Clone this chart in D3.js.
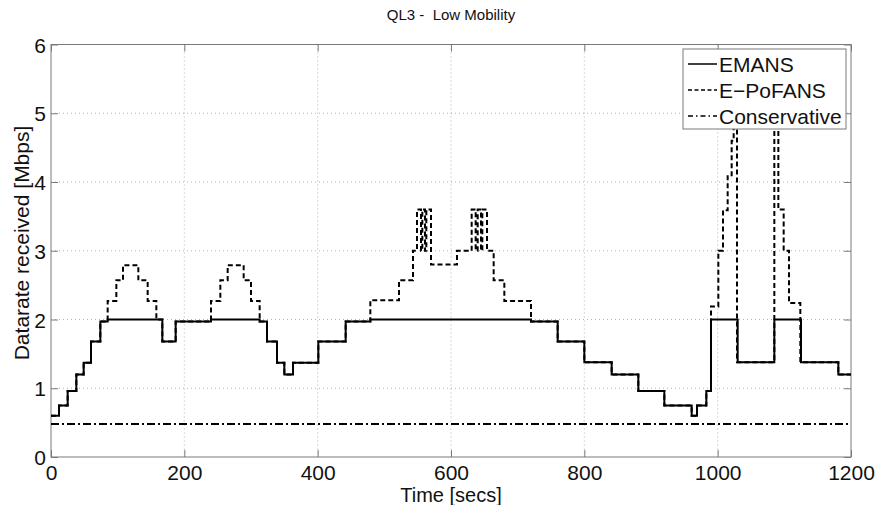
<!DOCTYPE html>
<html>
<head>
<meta charset="utf-8">
<script src="https://cdn.jsdelivr.net/npm/d3@7"></script>
<style>
  body { margin: 0; background: #fff; }
  svg { display: block; font-family: "Liberation Sans", Arial, sans-serif; }
</style>
</head>
<body>
<svg id="chart"></svg>
<script>
// step change times (secs) and the rate held from that time [Mbps]
var emansTime = [0, 12, 25, 38, 49, 60, 74, 85, 167, 187, 240, 313, 324, 339, 350, 363, 401, 442, 479, 720, 760, 800, 841, 881, 920, 961, 969, 983, 990, 1030, 1085, 1125, 1181, 1200];
var emansRate = [0.6, 0.75, 0.96, 1.2, 1.37, 1.68, 1.97, 2.0, 1.68, 1.97, 2.0, 1.97, 1.68, 1.37, 1.2, 1.37, 1.68, 1.97, 2.0, 1.97, 1.68, 1.38, 1.2, 0.96, 0.75, 0.6, 0.75, 0.96, 2.0, 1.38, 2.0, 1.38, 1.2, 1.2];

var pofansTime = [0, 12, 25, 38, 49, 60, 74, 85, 98, 108, 131, 145, 158, 167, 187, 240, 254, 265, 289, 300, 313, 324, 339, 350, 363, 401, 442, 479, 522, 543, 549, 555, 557, 561, 563, 570, 609, 631, 637, 640, 645, 647, 654, 664, 680, 720, 760, 800, 841, 881, 920, 961, 969, 983, 990, 1001, 1008, 1015, 1021, 1024, 1029, 1085, 1091, 1099, 1107, 1124, 1181, 1200];
var pofansRate = [0.6, 0.75, 0.96, 1.2, 1.37, 1.68, 1.97, 2.27, 2.57, 2.79, 2.57, 2.27, 2.0, 1.68, 1.97, 2.27, 2.57, 2.79, 2.57, 2.27, 1.97, 1.68, 1.37, 1.2, 1.37, 1.68, 1.97, 2.28, 2.57, 3.0, 3.6, 3.0, 3.6, 3.0, 3.6, 2.8, 3.0, 3.6, 3.0, 3.6, 3.0, 3.6, 3.0, 2.57, 2.27, 1.97, 1.68, 1.38, 1.2, 0.96, 0.75, 0.6, 0.75, 0.96, 2.19, 3.0, 3.59, 4.1, 4.6, 5.2, 1.38, 5.2, 3.6, 3.0, 2.24, 1.38, 1.2, 1.2];

var consTime = [0, 1200];
var consRate = [0.48, 0.48];

var xTicks = [0, 200, 400, 600, 800, 1000, 1200];
var yTicks = [0, 1, 2, 3, 4, 5, 6];
var seriesNames = ["EMANS", "E\u2212PoFANS", "Conservative"];

var W = 877, H = 505;
var margin = { top: 44.5, right: 26, bottom: 48, left: 51 },
  width = W - margin.left - margin.right,
  height = H - margin.top - margin.bottom;

var svg = d3.select("#chart")
  .attr("width", W)
  .attr("height", H);

var g = svg.append("g")
  .attr("transform", "translate(" + margin.left + "," + margin.top + ")");

var x = d3.scaleLinear().domain([0, 1200]).range([0, width]);
var y = d3.scaleLinear().domain([0, 6]).range([height, 0]);

// dotted grid
g.append("g")
  .selectAll("line")
  .data(xTicks.slice(1, -1))
  .enter().append("line")
  .attr("x1", function(d) { return x(d) }).attr("x2", function(d) { return x(d) })
  .attr("y1", 0).attr("y2", height)
  .attr("stroke", "#a0a0a0").attr("stroke-width", 0.8).attr("stroke-dasharray", "1,3");
g.append("g")
  .selectAll("line")
  .data(yTicks.slice(1, -1))
  .enter().append("line")
  .attr("y1", function(d) { return y(d) }).attr("y2", function(d) { return y(d) })
  .attr("x1", 0).attr("x2", width)
  .attr("stroke", "#a0a0a0").attr("stroke-width", 0.8).attr("stroke-dasharray", "1,3");

// axes, ticks inside and mirrored
var axisColor = "#7a7a7a";
function styleAxis(sel) {
  sel.select(".domain").remove();
  sel.selectAll(".tick line").attr("stroke", axisColor).attr("stroke-width", 1);
  sel.selectAll(".tick text").attr("fill", "#111").attr("dy", null).style("font-size", "21px");
}
var xAxis = g.append("g")
  .attr("transform", "translate(0," + height + ")")
  .call(d3.axisBottom(x).tickValues(xTicks).tickSize(-7).tickFormat(d3.format("d")))
  .call(styleAxis);
xAxis.selectAll(".tick text").attr("y", 23);
var yAxis = g.append("g")
  .call(d3.axisLeft(y).tickValues(yTicks).tickSize(-7).tickPadding(5).tickFormat(d3.format("d")))
  .call(styleAxis);
yAxis.selectAll(".tick text").attr("y", 7.5);
g.append("g")
  .call(d3.axisTop(x).tickValues(xTicks).tickSize(-7).tickFormat(""))
  .call(styleAxis);
g.append("g")
  .attr("transform", "translate(" + width + ",0)")
  .call(d3.axisRight(y).tickValues(yTicks).tickSize(-7).tickFormat(""))
  .call(styleAxis);
g.append("rect")
  .attr("width", width).attr("height", height)
  .attr("fill", "none").attr("stroke", axisColor).attr("stroke-width", 1);

var line = d3.line()
  .curve(d3.curveStepAfter)
  .x(function(d) { return x(d[0]) })
  .y(function(d) { return y(d[1]) });

var dataReady = [
  { name: seriesNames[0], values: d3.zip(emansTime, emansRate), dash: null, legendDash: null },
  { name: seriesNames[1], values: d3.zip(pofansTime, pofansRate), dash: "5,3", legendDash: "4,2.5" },
  { name: seriesNames[2], values: d3.zip(consTime, consRate), dash: "8,3,2,3", legendDash: "5,3,1.5,3" }
];

g.append("g")
  .selectAll("path")
  .data(dataReady.slice().reverse())
  .enter().append("path")
  .attr("d", function(d) { return line(d.values) })
  .attr("fill", "none")
  .attr("stroke", "#000")
  .attr("stroke-width", 2)
  .attr("stroke-dasharray", function(d) { return d.dash });

// legend
var lg = svg.append("g").attr("transform", "translate(683,49)");
lg.append("rect")
  .attr("width", 163).attr("height", 80)
  .attr("fill", "#fff").attr("stroke", axisColor).attr("stroke-width", 1);
var item = lg.selectAll(".item")
  .data(dataReady)
  .enter().append("g")
  .attr("transform", function(d, i) { return "translate(0," + (15 + i * 26) + ")" });
item.append("line")
  .attr("x1", 5).attr("x2", 34)
  .attr("stroke", "#000").attr("stroke-width", 1.5)
  .attr("stroke-dasharray", function(d) { return d.legendDash });
item.append("text")
  .attr("x", 36).attr("y", 7.5)
  .attr("fill", "#111").style("font-size", "21px")
  .text(function(d) { return d.name });

// titles
svg.append("text")
  .attr("x", margin.left + width / 2).attr("y", 20)
  .attr("text-anchor", "middle").attr("fill", "#111").style("font-size", "15px")
  .style("white-space", "pre")
  .text("QL3 -  Low Mobility");
svg.append("text")
  .attr("x", margin.left + width / 2).attr("y", 502)
  .attr("text-anchor", "middle").attr("fill", "#111").style("font-size", "20px")
  .text("Time [secs]");
svg.append("text")
  .attr("transform", "translate(29,243) rotate(-90)")
  .attr("text-anchor", "middle").attr("fill", "#111").style("font-size", "21px")
  .text("Datarate received [Mbps]");
</script>
</body>
</html>
